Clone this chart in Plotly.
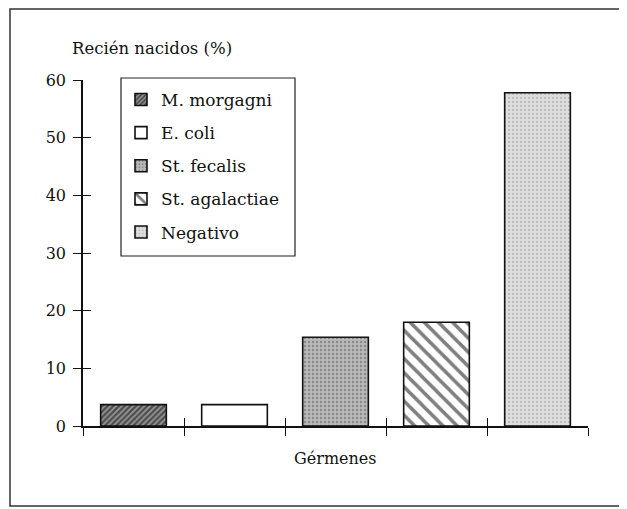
import plotly.graph_objects as go

# ---- data ----
categories = ["M. morgagni", "E. coli", "St. fecalis", "St. agalactiae", "Negativo"]
values = [3.7, 3.7, 15.4, 18.0, 57.8]
y_ticks = [0, 10, 20, 30, 40, 50, 60]
y_title = "Recién nacidos (%)"
x_title = "Gérmenes"

# ---- styles ----
patterns = [
    dict(shape="/", fgcolor="#000000", bgcolor="#9a9a9a", size=4, solidity=0.6),
    dict(shape="", fgcolor="#000000", bgcolor="#ffffff", size=6, solidity=0.2),
    dict(shape=".", fgcolor="#5a5a5a", bgcolor="#b9b9b9", size=4, solidity=0.3),
    dict(shape="\\", fgcolor="#000000", bgcolor="#ffffff", size=10, solidity=0.35),
    dict(shape=".", fgcolor="#9a9a9a", bgcolor="#dedede", size=4, solidity=0.25),
]
base_colors = ["#9a9a9a", "#ffffff", "#b9b9b9", "#ffffff", "#dedede"]

FONT = "DejaVu Serif"
OFF = 8  # default page body margin in the browser
W, H = 627 - OFF, 509 - OFF
L, R, T, B = 83 - OFF, 39, 80 - OFF, 83

fig = go.Figure()
for i, (cat, val) in enumerate(zip(categories, values)):
    fig.add_trace(go.Bar(
        x=[cat], y=[val], name=cat, width=0.65,
        marker=dict(color=base_colors[i], pattern=patterns[i],
                    line=dict(color="#111111", width=1.6)),
        legendgroup=cat, hoverinfo="skip",
    ))

# invisible trace on overlay axes to draw the inner half of crossing ticks
fig.add_trace(go.Scatter(x=categories, y=values, xaxis="x2", yaxis="y2",
                         mode="markers", marker=dict(opacity=0),
                         showlegend=False, hoverinfo="skip"))

axis_common = dict(showgrid=False, zeroline=False, tickcolor="#111111",
                   tickwidth=1.3, ticklen=8)

pw, ph = W - L - R, H - T - B
def px(x):
    return (x - OFF - L) / pw
def py(y):
    return (H - B - (y - OFF)) / ph

fig.update_layout(
    width=W, height=H,
    margin=dict(l=L, r=R, t=T, b=B),
    paper_bgcolor="white", plot_bgcolor="white",
    barmode="overlay",
    font=dict(family=FONT, size=15, color="#111111"),
    showlegend=True,
    legend=dict(
        x=px(121), y=py(82), xanchor="left", yanchor="top",
        borderwidth=0, bgcolor="rgba(0,0,0,0)",
        font=dict(family=FONT, size=17, color="#111111"),
        traceorder="grouped", tracegroupgap=8,
    ),
    xaxis=dict(
        type="category", categoryorder="array", categoryarray=categories,
        range=[-0.5, 4.5], showticklabels=False, ticks="outside",
        tickson="boundaries", showline=True, linecolor="#111111", linewidth=1.5,
        **axis_common,
    ),
    yaxis=dict(
        range=[0, 60], tickvals=y_ticks, ticks="outside", showline=True,
        linecolor="#111111", linewidth=1.5, ticklabelstandoff=4,
        tickfont=dict(family=FONT, size=16, color="#111111"),
        **axis_common,
    ),
    xaxis2=dict(
        overlaying="x", matches="x", anchor="y2", type="category",
        categoryorder="array", categoryarray=categories,
        showticklabels=False, ticks="inside", tickson="boundaries",
        showline=False, **axis_common,
    ),
    yaxis2=dict(
        overlaying="y", matches="y", anchor="x2", side="left",
        tickvals=y_ticks, ticks="inside", showticklabels=False,
        showline=False, **axis_common,
    ),
)

fig.add_annotation(text=y_title, xref="paper", yref="paper",
                   x=px(70), y=py(48), xanchor="left", yanchor="middle",
                   showarrow=False, font=dict(family=FONT, size=16.5, color="#111111"))
fig.add_annotation(text=x_title, xref="paper", yref="paper",
                   x=px(335), y=py(458), xanchor="center", yanchor="middle",
                   showarrow=False, font=dict(family=FONT, size=16, color="#111111"))

# legend box
fig.add_shape(type="rect", xref="paper", yref="paper",
              x0=px(121), x1=px(295), y0=py(256), y1=py(78),
              line=dict(color="#222222", width=1.2), fillcolor="white", layer="below")

# outer frame
fig.add_shape(type="rect", xref="paper", yref="paper",
              x0=px(10), x1=px(622), y0=py(506), y1=py(9),
              line=dict(color="#333333", width=1.5), layer="below")

fig.write_html("out.html")
